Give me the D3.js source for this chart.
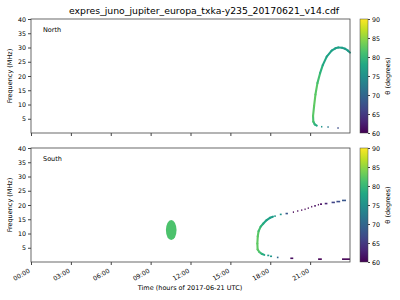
<!DOCTYPE html>
<html>
<head>
<meta charset="utf-8">
<style>
  body { margin: 0; background: #fff; }
  svg { font-family: "DejaVu Sans", sans-serif; }
</style>
</head>
<body>
<div id="chart"></div>
<script src="https://cdnjs.cloudflare.com/ajax/libs/d3/7.8.5/d3.min.js"></script>
<script>
  const title = "expres_juno_jupiter_europa_txka-y235_20170621_v14.cdf";
  const xTickHours = [0, 3, 6, 9, 12, 15, 18, 21];
  const xTickLabels = ["00:00", "03:00", "06:00", "09:00", "12:00", "15:00", "18:00", "21:00"];
  const yTicks = [5, 10, 15, 20, 25, 30, 35, 40];
  const cbTicks = [60, 65, 70, 75, 80, 85, 90];

  // North: continuous arc (hours, MHz, theta)
  const northT     = [21.50, 21.35, 21.24, 21.22, 21.30, 21.40, 21.55, 21.75, 21.95, 22.25, 22.62, 22.90, 23.12, 23.40, 23.62, 23.85, 24.0];
  const northF     = [2.6,   3.0,   4.0,   6.0,   9.5,  13.5,  17.5,  21.0,  23.8,  26.8,  28.9,  29.7,  30.0,  29.9,  29.6,  28.9,  28.2];
  const northTheta = [77,    79,    81,    82,    82.5,  82.5,  82,    80,    78.5,  77.5,  77,    77,    77,    77,    76.5,  76.5,  76.5];
  // North: isolated dashes
  const northDashT     = [21.87, 22.35, 23.10];
  const northDashF     = [2.2,   2.1,   1.75];
  const northDashTheta = [76,    72,    67];

  // South: continuous arc
  const southT     = [17.55, 17.35, 17.18, 17.05, 17.03, 17.06, 17.12, 17.28, 17.48, 17.73, 17.98, 18.20];
  const southF     = [2.5,   2.9,   3.5,   4.4,   6.5,   9.0,  10.8,  12.4,  13.5,  14.7,  15.5,  15.9];
  const southTheta = [77,    79,    81,    82.5,  82.5,  82.5,  82,    80,    78.5,  77.5,  77,    76.5];
  // South: isolated dashes
  const southDashT     = [17.85, 18.06, 18.56, 18.36, 18.79, 19.24, 19.74, 20.07, 20.37, 20.62, 20.86, 21.12, 21.37, 21.62, 21.82, 22.20, 22.74, 23.12, 23.55, 19.62, 21.74, 23.70];
  const southDashF     = [2.3,   2.0,   1.6,   16.1,  16.7,  17.0,  17.5,  17.9,  18.2,  18.5,  18.9,  19.4,  19.7,  20.1,  20.3,  20.5,  20.9,  21.2,  21.6,  1.3,   1.0,   1.0];
  const southDashW     = [0.15,  0.15,  0.12,  0.12,  0.14,  0.18,  0.08,  0.08,  0.08,  0.08,  0.08,  0.08,  0.12,  0.08,  0.15,  0.2,   0.25,  0.28,  0.3,   0.22,  0.28,  0.6];
  const southDashTheta = [76,    76,    70,    76,    75,    68,    60,    60,    60,    60,    60,    60,    61,    60,    61,    63,    66,    67,    68,    61,    60,    60];
  // South: blob around 10.5 h
  const blobT = 10.55, blobF = 11.2, blobHalfT = 0.4, blobHalfF = 3.5, blobTheta = 81.5;

  const W = 400, H = 300;
  const svg = d3.select("#chart").append("svg").attr("width", W).attr("height", H);

  const x = d3.scaleLinear().domain([0, 24]).range([31, 350]);
  const color = d3.scaleSequential(d3.interpolateViridis).domain([60, 90]);

  svg.append("text")
    .attr("x", 204).attr("y", 14)
    .attr("text-anchor", "middle")
    .attr("font-size", 9.3)
    .text(title);

  function panel(top, name, lineT, lineF, lineTh, dashT, dashF, dashTh, dashW, showX) {
    const y = d3.scaleLinear().domain([0, 40]).range([top + 114, top]);
    const g = svg.append("g");

    // continuous arc, each segment coloured by theta
    for (let i = 1; i < lineT.length; i++) {
      g.append("line")
        .attr("x1", x(lineT[i - 1])).attr("y1", y(lineF[i - 1]))
        .attr("x2", x(lineT[i])).attr("y2", y(lineF[i]))
        .attr("stroke", color((lineTh[i - 1] + lineTh[i]) / 2))
        .attr("stroke-width", 2.1)
        .attr("stroke-linecap", "round");
    }
    dashT.forEach((t, i) => {
      const w = dashW ? dashW[i] : 0.1;
      g.append("rect")
        .attr("x", x(t - w / 2)).attr("y", y(dashF[i]) - 0.8)
        .attr("width", x(w) - x(0)).attr("height", 1.6)
        .attr("fill", color(dashTh[i]));
    });

    g.append("text").attr("x", 43).attr("y", top + 13)
      .attr("font-size", 6.5).text(name);

    // frame
    g.append("rect").attr("x", 31).attr("y", top).attr("width", 319).attr("height", 114)
      .attr("fill", "none").attr("stroke", "#444").attr("stroke-width", 0.8);

    const ya = g.append("g").attr("transform", "translate(31,0)")
      .call(d3.axisLeft(y).tickValues(yTicks).tickSize(3).tickPadding(2));
    ya.select(".domain").remove();
    ya.selectAll("text").attr("font-size", 6.3).attr("font-family", "DejaVu Sans");
    ya.selectAll("line").attr("stroke", "#444");

    const xa = g.append("g").attr("transform", `translate(0,${top + 114})`)
      .call(d3.axisBottom(x).tickValues(xTickHours).tickSize(3)
        .tickFormat((d, i) => showX ? xTickLabels[i] : ""));
    xa.select(".domain").remove();
    xa.selectAll("line").attr("stroke", "#444");
    xa.selectAll("text")
      .attr("font-size", 6.3).attr("font-family", "DejaVu Sans")
      .attr("text-anchor", "end")
      .attr("dy", null).attr("y", 0)
      .attr("transform", "translate(-1,10) rotate(-30)");

    g.append("text")
      .attr("transform", `translate(12,${top + 57}) rotate(-90)`)
      .attr("text-anchor", "middle").attr("font-size", 6.5)
      .text("Frequency (MHz)");

    // colorbar
    const cb = d3.scaleLinear().domain([60, 90]).range([top + 114, top]);
    const gid = "grad" + name;
    const grad = svg.append("defs").append("linearGradient")
      .attr("id", gid).attr("x1", 0).attr("y1", 1).attr("x2", 0).attr("y2", 0);
    d3.range(0, 1.0001, 0.1).forEach(s => {
      grad.append("stop").attr("offset", s).attr("stop-color", d3.interpolateViridis(s));
    });
    g.append("rect").attr("x", 360).attr("y", top).attr("width", 8).attr("height", 114)
      .attr("fill", `url(#${gid})`).attr("stroke", "#444").attr("stroke-width", 0.5);
    const ca = g.append("g").attr("transform", "translate(368,0)")
      .call(d3.axisRight(cb).tickValues(cbTicks).tickSize(2).tickPadding(2));
    ca.select(".domain").remove();
    ca.selectAll("line").attr("stroke", "#444");
    ca.selectAll("text").attr("font-size", 6.3).attr("font-family", "DejaVu Sans");
    g.append("text")
      .attr("transform", `translate(390,${top + 57}) rotate(-90)`)
      .attr("text-anchor", "middle").attr("font-size", 6.5)
      .text("θ (degrees)");
    return { g, y };
  }

  panel(19, "North", northT, northF, northTheta, northDashT, northDashF, northDashTheta, null, false);
  const south = panel(148, "South", southT, southF, southTheta, southDashT, southDashF, southDashTheta, southDashW, true);

  south.g.insert("ellipse", ":first-child")
    .attr("cx", x(blobT)).attr("cy", south.y(blobF))
    .attr("rx", x(blobHalfT) - x(0)).attr("ry", south.y(0) - south.y(blobHalfF))
    .attr("fill", color(blobTheta));

  svg.append("text")
    .attr("x", 190).attr("y", 290)
    .attr("text-anchor", "middle").attr("font-size", 6.5)
    .text("Time (hours of 2017-06-21 UTC)");
</script>
</body>
</html>
